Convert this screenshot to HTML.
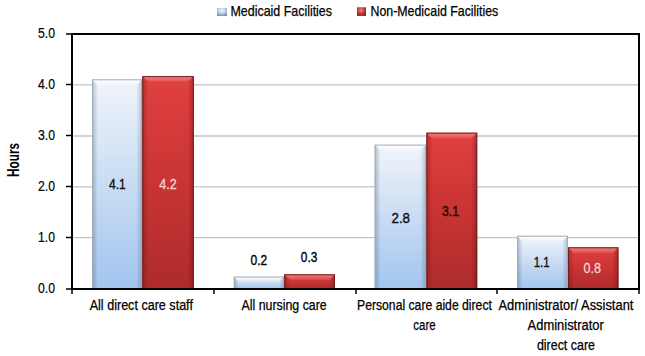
<!DOCTYPE html>
<html><head><meta charset="utf-8"><style>
html,body{margin:0;padding:0;background:#fff;}
svg{display:block;font-family:"Liberation Sans", sans-serif;}
</style></head><body>
<svg width="645" height="356" viewBox="0 0 645 356">
<defs>
<linearGradient id="gb" x1="0" y1="0" x2="0" y2="1">
 <stop offset="0" stop-color="#f0f5fb"/>
 <stop offset="0.5" stop-color="#c9dcf3"/>
 <stop offset="1" stop-color="#a2c5ef"/>
</linearGradient>
<linearGradient id="gr" x1="0" y1="0" x2="0" y2="1">
 <stop offset="0" stop-color="#e04040"/>
 <stop offset="0.5" stop-color="#c93434"/>
 <stop offset="1" stop-color="#ae2c2c"/>
</linearGradient>
<filter id="all" x="-2%" y="-2%" width="104%" height="104%"><feGaussianBlur stdDeviation="1.0"/></filter>
<linearGradient id="hib" x1="0" y1="0" x2="0" y2="1"><stop offset="0" stop-color="#fff" stop-opacity="0.95"/><stop offset="1" stop-color="#fff" stop-opacity="0.2"/></linearGradient>
<linearGradient id="lob" x1="0" y1="0" x2="1" y2="0"><stop offset="0" stop-color="#3c506e" stop-opacity="0.35"/><stop offset="1" stop-color="#3c506e" stop-opacity="0.02"/></linearGradient>
<linearGradient id="rob" x1="1" y1="0" x2="0" y2="0"><stop offset="0" stop-color="#3c506e" stop-opacity="0.3"/><stop offset="1" stop-color="#3c506e" stop-opacity="0.02"/></linearGradient>
<linearGradient id="hir" x1="0" y1="0" x2="0" y2="1"><stop offset="0" stop-color="#ff9a9a" stop-opacity="0.7"/><stop offset="1" stop-color="#ff9a9a" stop-opacity="0.2"/></linearGradient>
<linearGradient id="lor" x1="0" y1="0" x2="1" y2="0"><stop offset="0" stop-color="#500000" stop-opacity="0.28"/><stop offset="1" stop-color="#500000" stop-opacity="0.03"/></linearGradient>
<linearGradient id="ror" x1="1" y1="0" x2="0" y2="0"><stop offset="0" stop-color="#500000" stop-opacity="0.32"/><stop offset="1" stop-color="#500000" stop-opacity="0.03"/></linearGradient>
<filter id="soft" x="-5%" y="-5%" width="110%" height="110%"><feGaussianBlur stdDeviation="0.7"/></filter>
<radialGradient id="mb" cx="0.48" cy="0.3" r="0.7">
 <stop offset="0" stop-color="#f2f6fb"/>
 <stop offset="0.6" stop-color="#b8c6dc"/>
 <stop offset="1" stop-color="#7f90ae"/>
</radialGradient>
<radialGradient id="mr" cx="0.45" cy="0.35" r="0.7">
 <stop offset="0" stop-color="#f08a80"/>
 <stop offset="0.55" stop-color="#c43a36"/>
 <stop offset="1" stop-color="#801c1c"/>
</radialGradient>
</defs>
<rect width="645" height="356" fill="#fff"/>
<g>
<line x1="72" y1="237.7" x2="639" y2="237.7" stroke="#c4c4c4" stroke-width="1.3"/>
<line x1="72" y1="186.8" x2="639" y2="186.8" stroke="#c4c4c4" stroke-width="1.3"/>
<line x1="72" y1="136.0" x2="639" y2="136.0" stroke="#c4c4c4" stroke-width="1.3"/>
<line x1="72" y1="84.9" x2="639" y2="84.9" stroke="#c4c4c4" stroke-width="1.3"/>
<rect x="92" y="79.3" width="50" height="209.7" fill="url(#gb)"/>
<polygon points="92,79.3 142,79.3 136.5,84.8 97.5,84.8" fill="url(#hib)"/>
<polygon points="92,79.3 97.5,84.8 97.5,288 92,288" fill="url(#lob)"/>
<polygon points="142,79.3 136.5,84.8 136.5,288 142,288" fill="url(#rob)"/>
<rect x="92.5" y="79.8" width="49" height="209.2" fill="none" stroke="#a4abb5" stroke-width="1"/>
<rect x="142.3" y="76.1" width="51.5" height="212.9" fill="url(#gr)"/>
<polygon points="142.3,76.1 193.8,76.1 188.3,81.6 147.8,81.6" fill="url(#hir)"/>
<polygon points="142.3,76.1 147.8,81.6 147.8,288 142.3,288" fill="url(#lor)"/>
<polygon points="193.8,76.1 188.3,81.6 188.3,288 193.8,288" fill="url(#ror)"/>
<rect x="142.8" y="76.6" width="50.5" height="212.4" fill="none" stroke="#6e2020" stroke-width="1"/>
<rect x="233.8" y="276.5" width="50.19999999999999" height="12.5" fill="url(#gb)"/>
<polygon points="233.8,276.5 284,276.5 279.2083333333333,281.2916666666667 238.59166666666667,281.2916666666667" fill="url(#hib)"/>
<polygon points="233.8,276.5 238.59166666666667,281.2916666666667 238.59166666666667,288 233.8,288" fill="url(#lob)"/>
<polygon points="284,276.5 279.2083333333333,281.2916666666667 279.2083333333333,288 284,288" fill="url(#rob)"/>
<rect x="234.3" y="277.0" width="49.19999999999999" height="12.0" fill="none" stroke="#a4abb5" stroke-width="1"/>
<rect x="284.2" y="274.3" width="50.80000000000001" height="14.699999999999989" fill="url(#gr)"/>
<polygon points="284.2,274.3 335,274.3 329.5,279.8 289.7,279.8" fill="url(#hir)"/>
<polygon points="284.2,274.3 289.7,279.8 289.7,288 284.2,288" fill="url(#lor)"/>
<polygon points="335,274.3 329.5,279.8 329.5,288 335,288" fill="url(#ror)"/>
<rect x="284.7" y="274.8" width="49.80000000000001" height="14.199999999999989" fill="none" stroke="#6e2020" stroke-width="1"/>
<rect x="374.7" y="144.6" width="51.5" height="144.4" fill="url(#gb)"/>
<polygon points="374.7,144.6 426.2,144.6 420.7,150.1 380.2,150.1" fill="url(#hib)"/>
<polygon points="374.7,144.6 380.2,150.1 380.2,288 374.7,288" fill="url(#lob)"/>
<polygon points="426.2,144.6 420.7,150.1 420.7,288 426.2,288" fill="url(#rob)"/>
<rect x="375.2" y="145.1" width="50.5" height="143.9" fill="none" stroke="#a4abb5" stroke-width="1"/>
<rect x="426.4" y="132.7" width="50.80000000000001" height="156.3" fill="url(#gr)"/>
<polygon points="426.4,132.7 477.2,132.7 471.7,138.2 431.9,138.2" fill="url(#hir)"/>
<polygon points="426.4,132.7 431.9,138.2 431.9,288 426.4,288" fill="url(#lor)"/>
<polygon points="477.2,132.7 471.7,138.2 471.7,288 477.2,288" fill="url(#ror)"/>
<rect x="426.9" y="133.2" width="49.80000000000001" height="155.8" fill="none" stroke="#6e2020" stroke-width="1"/>
<rect x="517" y="235.7" width="51" height="53.30000000000001" fill="url(#gb)"/>
<polygon points="517,235.7 568,235.7 562.5,241.2 522.5,241.2" fill="url(#hib)"/>
<polygon points="517,235.7 522.5,241.2 522.5,288 517,288" fill="url(#lob)"/>
<polygon points="568,235.7 562.5,241.2 562.5,288 568,288" fill="url(#rob)"/>
<rect x="517.5" y="236.2" width="50" height="52.80000000000001" fill="none" stroke="#a4abb5" stroke-width="1"/>
<rect x="568" y="247.3" width="50.39999999999998" height="41.69999999999999" fill="url(#gr)"/>
<polygon points="568,247.3 618.4,247.3 612.9,252.8 573.5,252.8" fill="url(#hir)"/>
<polygon points="568,247.3 573.5,252.8 573.5,288 568,288" fill="url(#lor)"/>
<polygon points="618.4,247.3 612.9,252.8 612.9,288 618.4,288" fill="url(#ror)"/>
<rect x="568.5" y="247.8" width="49.39999999999998" height="41.19999999999999" fill="none" stroke="#6e2020" stroke-width="1"/>
<path d="M72 34 H639 V289 H72 Z" fill="none" stroke="#000" stroke-width="2"/>
<line x1="66" y1="289" x2="72" y2="289" stroke="#000" stroke-width="1.5"/>
<line x1="66" y1="237.5" x2="72" y2="237.5" stroke="#000" stroke-width="1.5"/>
<line x1="66" y1="186.5" x2="72" y2="186.5" stroke="#000" stroke-width="1.5"/>
<line x1="66" y1="135.5" x2="72" y2="135.5" stroke="#000" stroke-width="1.5"/>
<line x1="66" y1="84.5" x2="72" y2="84.5" stroke="#000" stroke-width="1.5"/>
<line x1="66" y1="34" x2="72" y2="34" stroke="#000" stroke-width="1.5"/>
<line x1="72" y1="289" x2="72" y2="294" stroke="#000" stroke-width="1.5"/>
<line x1="214" y1="289" x2="214" y2="294" stroke="#000" stroke-width="1.5"/>
<line x1="356" y1="289" x2="356" y2="294" stroke="#000" stroke-width="1.5"/>
<line x1="497" y1="289" x2="497" y2="294" stroke="#000" stroke-width="1.5"/>
<line x1="639" y1="289" x2="639" y2="294" stroke="#000" stroke-width="1.5"/>
<text x="38" y="293.0" textLength="17" lengthAdjust="spacingAndGlyphs" font-size="15" fill="#000" stroke="#000" stroke-width="0.2" font-weight="normal" >0.0</text>
<text x="38" y="242.0" textLength="17" lengthAdjust="spacingAndGlyphs" font-size="15" fill="#000" stroke="#000" stroke-width="0.2" font-weight="normal" >1.0</text>
<text x="38" y="191.0" textLength="17" lengthAdjust="spacingAndGlyphs" font-size="15" fill="#000" stroke="#000" stroke-width="0.2" font-weight="normal" >2.0</text>
<text x="38" y="140.0" textLength="17" lengthAdjust="spacingAndGlyphs" font-size="15" fill="#000" stroke="#000" stroke-width="0.2" font-weight="normal" >3.0</text>
<text x="38" y="89.0" textLength="17" lengthAdjust="spacingAndGlyphs" font-size="15" fill="#000" stroke="#000" stroke-width="0.2" font-weight="normal" >4.0</text>
<text x="38" y="38.0" textLength="17" lengthAdjust="spacingAndGlyphs" font-size="15" fill="#000" stroke="#000" stroke-width="0.2" font-weight="normal" >5.0</text>
<text transform="translate(19,177) rotate(-90)" x="0" y="0" textLength="34" lengthAdjust="spacingAndGlyphs" font-size="16.5" font-weight="bold">Hours</text>
<rect x="217" y="8" width="10" height="8" fill="url(#mb)"/>
<text x="230.5" y="16" textLength="101.5" lengthAdjust="spacingAndGlyphs" font-size="14.5" fill="#000" stroke="#000" stroke-width="0.25" font-weight="normal" >Medicaid Facilities</text>
<rect x="357" y="7.3" width="9" height="8.6" fill="url(#mr)"/>
<text x="370.5" y="16" textLength="127.80000000000001" lengthAdjust="spacingAndGlyphs" font-size="14.5" fill="#000" stroke="#000" stroke-width="0.25" font-weight="normal" >Non-Medicaid Facilities</text>
<text x="89.7" y="310" textLength="103.2" lengthAdjust="spacingAndGlyphs" font-size="14" fill="#000" stroke="#000" stroke-width="0.25" font-weight="normal" >All direct care staff</text>
<text x="241.5" y="310" textLength="85.19999999999999" lengthAdjust="spacingAndGlyphs" font-size="14" fill="#000" stroke="#000" stroke-width="0.25" font-weight="normal" >All nursing care</text>
<text x="357" y="310" textLength="134.89999999999998" lengthAdjust="spacingAndGlyphs" font-size="14" fill="#000" stroke="#000" stroke-width="0.25" font-weight="normal" >Personal care aide direct</text>
<text x="413.3" y="329.7" textLength="22.30000000000001" lengthAdjust="spacingAndGlyphs" font-size="14" fill="#000" stroke="#000" stroke-width="0.25" font-weight="normal" >care</text>
<text x="498.5" y="310" textLength="134.89999999999998" lengthAdjust="spacingAndGlyphs" font-size="14" fill="#000" stroke="#000" stroke-width="0.25" font-weight="normal" >Administrator/ Assistant</text>
<text x="527.6" y="330" textLength="76.19999999999993" lengthAdjust="spacingAndGlyphs" font-size="14" fill="#000" stroke="#000" stroke-width="0.25" font-weight="normal" >Administrator</text>
<text x="536.9" y="349.5" textLength="58.10000000000002" lengthAdjust="spacingAndGlyphs" font-size="14" fill="#000" stroke="#000" stroke-width="0.25" font-weight="normal" >direct care</text>
<text x="109.1" y="189.1" textLength="16.700000000000003" lengthAdjust="spacingAndGlyphs" font-size="15.5" fill="#111" stroke="#111" stroke-width="0.4" font-weight="normal" >4.1</text>
<text x="159.3" y="189.1" textLength="17.399999999999977" lengthAdjust="spacingAndGlyphs" font-size="15.5" fill="#f5d6d6" stroke="#f5d6d6" stroke-width="0.3" font-weight="normal" >4.2</text>
<text x="250.5" y="265.2" textLength="16.69999999999999" lengthAdjust="spacingAndGlyphs" font-size="15.5" fill="#000" stroke="#000" stroke-width="0.4" font-weight="normal" >0.2</text>
<text x="300.8" y="262.3" textLength="16.5" lengthAdjust="spacingAndGlyphs" font-size="15.5" fill="#000" stroke="#000" stroke-width="0.4" font-weight="normal" >0.3</text>
<text x="391.5" y="223.0" textLength="18.5" lengthAdjust="spacingAndGlyphs" font-size="15.5" fill="#111" stroke="#111" stroke-width="0.4" font-weight="normal" >2.8</text>
<text x="442" y="216.2" textLength="17" lengthAdjust="spacingAndGlyphs" font-size="15.5" fill="#2a0808" stroke="#2a0808" stroke-width="0.5" font-weight="normal" >3.1</text>
<text x="533.7" y="267.4" textLength="15.899999999999977" lengthAdjust="spacingAndGlyphs" font-size="15.5" fill="#111" stroke="#111" stroke-width="0.4" font-weight="normal" >1.1</text>
<text x="583.5" y="273.2" textLength="17.399999999999977" lengthAdjust="spacingAndGlyphs" font-size="15.5" fill="#f5d6d6" stroke="#f5d6d6" stroke-width="0.3" font-weight="normal" >0.8</text>
</g>
</svg>
</body></html>
